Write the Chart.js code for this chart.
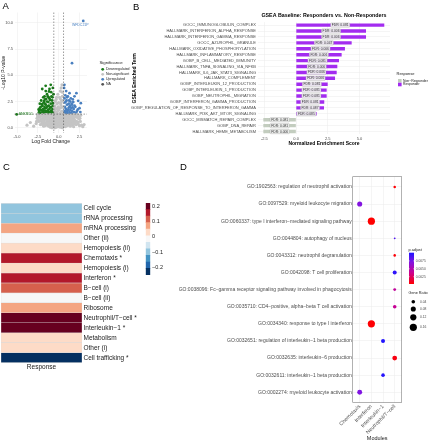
<!DOCTYPE html>
<html><head><meta charset="utf-8">
<script src="https://cdn.jsdelivr.net/npm/chart.js@4"></script>
<style>
html,body{margin:0;padding:0;background:#fff;}
#wrap{position:relative;width:432px;height:440px;overflow:hidden;font-family:"Liberation Sans",Arial,sans-serif;background:#fff;}
canvas{position:absolute;left:0;top:0;}
.lbl{position:absolute;font-size:9.5px;line-height:1;color:#000;}
</style></head><body>
<div id="wrap">
<canvas id="cA" width="432" height="440"></canvas>
<canvas id="cB" width="432" height="440"></canvas>
<canvas id="cC" width="432" height="440"></canvas>
<canvas id="cCbar" width="432" height="440"></canvas>
<canvas id="cD" width="432" height="440"></canvas>
<div class="lbl" style="left:2.5px;top:0.6px">A</div>
<div class="lbl" style="left:133px;top:1.6px">B</div>
<div class="lbl" style="left:3px;top:162.2px">C</div>
<div class="lbl" style="left:180px;top:162.2px">D</div>
</div>
<script>
// ---------------- DATA ----------------
// Panel A: volcano plot [logFC, -log10 p]
const volcanoDown = [[-5.04,1.27],[-2.45,1.35],[-2.3,1.5],[-2.2,1.4],[-2.1,1.7],[-2.25,1.9],[-2.0,1.35],[-1.95,2.1],[-1.9,1.55],[-1.85,1.8],[-1.8,2.4],[-1.75,1.4],[-1.7,2.0],[-1.65,2.7],[-1.6,1.6],[-1.55,2.2],[-1.5,1.45],[-1.45,1.9],[-1.4,2.5],[-1.35,1.35],[-1.3,3.0],[-1.25,1.7],[-1.2,2.1],[-1.15,1.5],[-1.1,2.8],[-1.05,1.4],[-1.0,1.95],[-0.95,2.3],[-0.9,1.6],[-0.85,1.35],[-0.8,2.6],[-0.75,1.8],[-0.7,1.45],[-0.68,2.1],[-0.65,1.6],[-0.62,3.2],[-0.9,3.4],[-1.16,3.46],[-1.56,4.0],[-0.95,4.1],[-1.97,3.7],[-1.4,3.2],[-1.7,3.0],[-2.1,2.6],[-2.26,2.3],[-1.85,2.9],[-1.25,2.45],[-0.75,2.9],[-1.05,2.65],[-1.5,2.75],[-1.95,1.5],[-2.15,2.0],[-0.8,1.5],[-1.3,1.6],[-1.6,1.85],[-1.0,1.5],[-0.7,2.35],[-1.8,1.65],[-2.35,1.6],[-1.1,1.8],[-0.9,2.0],[-1.45,1.55],[-1.2,2.9],[-0.65,1.35],[-1.65,2.3],[-2.0,2.25],[-1.35,2.05],[-0.85,3.0],[-1.75,2.55],[-2.4,1.75],[-1.55,3.5],[-1.1,3.7],[-0.7,3.8]];
const volcanoUp = [[2.95,10.2],[1.6,6.16],[0.69,4.1],[1.3,3.3],[2.13,3.3],[2.34,2.57],[2.66,2.35],[2.5,1.87],[2.6,1.5],[2.2,1.6],[0.65,1.35],[0.7,1.6],[0.75,2.0],[0.8,1.4],[0.85,2.5],[0.9,1.8],[0.95,1.45],[1.0,2.2],[1.05,1.6],[1.1,3.0],[1.15,1.35],[1.2,1.9],[1.25,2.6],[1.3,1.5],[1.35,2.1],[1.4,1.7],[1.45,2.8],[1.5,1.4],[1.55,2.3],[1.6,1.6],[1.65,1.95],[1.7,1.35],[1.75,2.45],[1.8,1.8],[1.85,1.5],[1.9,2.1],[0.7,2.8],[0.8,3.1],[0.9,3.5],[0.65,3.8],[1.0,2.9],[1.2,2.3],[1.4,2.5],[0.75,2.4],[1.1,1.7],[1.5,1.9],[0.95,2.6],[1.7,2.7],[2.0,2.0],[2.1,1.45],[0.85,1.55],[1.3,2.0],[1.6,2.2],[1.0,1.4],[0.7,1.95],[2.3,1.75],[1.9,3.0]];
const volcanoNS = [[0.4,4.1],[0.3,3.8],[0.2,3.5],[-0.1,3.2],[0.45,3.0],[0.1,2.9],[-0.3,2.7],[0.35,2.6],[0.0,2.4],[-0.2,2.3],[0.25,2.2],[-0.45,2.1],[0.5,2.0],[0.15,1.9],[-0.35,1.85],[0.05,1.7],[-0.5,1.65],[0.4,1.6],[-0.15,1.55],[0.3,1.5],[-0.4,1.45],[0.2,1.4],[-0.25,1.35],[0.55,1.3],[0.0,1.25],[-0.05,2.0],[0.3,2.4],[-0.25,2.9],[0.45,3.4],[0.2,2.75],[-0.4,2.5],[0.1,1.3],[-0.5,1.9],[0.5,2.6],[0.35,1.95],[-0.1,1.75],
[-2.6,0.9],[-2.5,1.1],[-2.4,0.6],[-2.3,1.0],[-2.2,0.3],[-2.1,0.8],[-2.05,1.2],[-2.0,0.45],[-1.9,0.95],[-1.85,0.6],[-1.8,0.4],[-1.75,1.15],[-1.7,0.75],[-1.6,0.2],[-1.55,1.0],[-1.5,0.5],[-1.45,1.25],[-1.4,0.8],[-1.35,0.3],[-1.3,1.05],[-1.25,0.6],[-1.2,0.15],[-1.15,0.9],[-1.1,1.2],[-1.05,0.4],[-1.0,0.7],[-0.95,1.0],[-0.9,0.25],[-0.85,0.55],[-0.8,1.15],[-0.75,0.85],[-0.7,0.1],[-0.65,0.45],[-0.6,1.0],[-0.55,0.7],[-0.5,0.2],[-0.45,1.2],[-0.4,0.5],[-0.35,0.85],[-0.3,0.05],[-0.25,1.05],[-0.2,0.35],[-0.15,0.65],[-0.1,0.95],[-0.05,0.15],[0.0,0.55],[0.05,1.1],[0.1,0.3],[0.15,0.8],[0.2,0.05],[0.25,1.0],[0.3,0.45],[0.35,0.7],[0.4,1.2],[0.45,0.2],[0.5,0.9],[0.55,0.55],[0.6,1.15],[0.65,0.3],[0.7,0.75],[0.75,1.0],[0.8,0.1],[0.85,0.6],[0.9,1.2],[0.95,0.4],[1.0,0.85],[1.05,0.2],[1.1,1.05],[1.15,0.55],[1.2,0.8],[1.25,0.3],[1.3,1.15],[1.35,0.65],[1.4,0.15],[1.45,0.95],[1.5,0.45],[1.6,1.1],[1.65,0.7],[1.7,0.25],[1.8,0.9],[1.85,0.5],[1.9,1.2],[2.0,0.65],[2.1,0.3],[2.2,1.0],[2.3,0.55],[2.4,0.85],[2.5,0.2],[2.6,0.6],[-2.7,0.4],[-0.3,0.6],[0.0,0.9],[0.3,0.15],[-0.6,0.35],[0.6,0.6],[-1.0,0.05],[1.0,0.5],[-0.15,0.25],[0.15,0.45],[-3.8,0.25],[-3.0,0.15],[2.75,0.25],[3.05,0.3],[-2.0,0.55],[-3.4,0.5],[2.9,0.1],[-0.45,0.0],[0.45,0.0],[-0.8,0.0],[0.8,0.35],[-1.8,0.15],[1.8,0.1],
[-2.55,1.25],[-2.45,0.75],[-2.35,1.2],[-2.25,0.65],[-2.15,1.1],[-2.05,0.7],[-1.95,1.25],[-1.95,0.3],[-1.9,0.75],[-1.8,1.05],[-1.75,0.55],[-1.65,0.95],[-1.65,0.45],[-1.6,1.25],[-1.5,0.85],[-1.45,0.35],[-1.4,1.1],[-1.35,0.65],[-1.3,0.45],[-1.25,1.2],[-1.2,0.95],[-1.15,0.35],[-1.1,0.7],[-1.05,0.95],[-1.0,1.25],[-0.95,0.5],[-0.9,0.8],[-0.85,1.0],[-0.8,0.3],[-0.75,0.6],[-0.7,1.25],[-0.65,0.8],[-0.6,0.15],[-0.55,1.1],[-0.5,0.55],[-0.45,0.8],[-0.4,0.25],[-0.35,1.1],[-0.3,0.4],[-0.25,0.8],[-0.2,1.2],[-0.15,0.45],[-0.1,0.1],[-0.05,0.75],[0.0,1.1],[0.05,0.4],[0.1,0.65],[0.15,1.0],[0.2,0.3],[0.25,0.6],[0.3,1.25],[0.35,0.35],[0.4,0.9],[0.45,0.55],[0.5,1.2],[0.55,0.25],[0.6,0.85],[0.65,1.0],[0.7,0.45],[0.75,0.2],[0.8,0.8],[0.85,1.1],[0.9,0.35],[0.95,0.7],[1.0,1.15],[1.05,0.6],[1.1,0.35],[1.15,0.85],[1.2,1.2],[1.25,0.5],[1.3,0.75],[1.35,1.0],[1.4,0.4],[1.45,0.65],[1.5,1.2],[1.55,0.8],[1.6,0.35],[1.7,1.0],[1.75,0.55],[1.8,1.25],[1.9,0.75],[1.95,0.4],[2.05,1.05],[2.15,0.6],[2.25,1.25],[2.35,0.35],[2.45,1.1],[2.55,0.9],[2.65,1.2],[-2.65,0.6]];
const volcanoLabelGenes = ['WFDC21P','ANKRD1'];
const volcanoLabelPoints = [[2.95,10.2],[-5.04,1.27]];
const fcThresholds = [-0.585, 0.585];
const pThresholds = [1.3];
const significanceClasses = ['Downregulated','Non-significant','Upregulated','NA'];

// Panel B: GSEA
const gseaTerms = ['GOCC_IMMUNOGLOBULIN_COMPLEX','HALLMARK_INTERFERON_ALPHA_RESPONSE','HALLMARK_INTERFERON_GAMMA_RESPONSE','GOCC_AZUROPHIL_GRANULE','HALLMARK_OXIDATIVE_PHOSPHORYLATION','HALLMARK_INFLAMMATORY_RESPONSE','GOBP_B_CELL_MEDIATED_IMMUNITY','HALLMARK_TNFA_SIGNALING_VIA_NFKB','HALLMARK_IL6_JAK_STAT3_SIGNALING','HALLMARK_COMPLEMENT','GOBP_INTERLEUKIN_12_PRODUCTION','GOBP_INTERLEUKIN_1_PRODUCTION','GOBP_NEUTROPHIL_MIGRATION','GOBP_INTERFERON_GAMMA_PRODUCTION','GOBP_REGULATION_OF_RESPONSE_TO_INTERFERON_GAMMA','HALLMARK_PI3K_AKT_MTOR_SIGNALING','GOCC_MISMATCH_REPAIR_COMPLEX','GOBP_DNA_REPAIR','HALLMARK_HEME_METABOLISM'];
const gseaNES = [6.95,5.51,5.51,4.38,3.85,3.59,3.38,3.25,3.20,3.07,2.49,2.41,2.41,2.22,2.20,1.62,-2.58,-2.58,-2.58];
const gseaFDR = ['0.081','0.006','0.006','0.047','0.006','0.006','0.081','0.006','0.006','0.006','0.081','0.081','0.081','0.081','0.087','0.085','0.081','0.081','0.006'];
const gseaGroups = ['Non−Responder','Responder'];

// Panel C: heatmap
const heatRows = ['Cell cycle','rRNA processing','mRNA processing','Other (ii)','Hemopoiesis (ii)','Chemotaxis *','Hemopoiesis (i)','Interferon *','B−cell (i)','B−cell (ii)','Ribosome','Neutrophil/T−cell *','Interleukin−1 *','Metabolism','Other (i)','Cell trafficking *'];
const heatValues = [-0.09,-0.09,0.08,0.0,0.03,0.16,0.03,0.16,0.12,0.0,0.08,0.21,0.21,0.03,0.03,-0.23];
const heatBreaks = [-0.25,-0.207,-0.165,-0.122,-0.079,-0.036,0.006,0.049,0.092,0.135,0.177,0.22];
const rdbuColors = ['#053061','#2166ac','#4393c3','#92c5de','#d1e5f0','#f7f7f7','#fddbc7','#f4a582','#d6604d','#b2182b','#67001f'];
const heatColumn = ['Response'];

// Panel D: GO dot plot
const goModules = ['Chemotaxis','Interferon','Interleukin−1','Neutrophil/T−cell'];
const goTerms = ['GO:1902563: regulation of neutrophil activation','GO:0097529: myeloid leukocyte migration','GO:0060337: type I interferon−mediated signaling pathway','GO:0044804: autophagy of nucleus','GO:0043312: neutrophil degranulation','GO:0042098: T cell proliferation','GO:0038096: Fc−gamma receptor signaling pathway involved in phagocytosis','GO:0035710: CD4−positive, alpha−beta T cell activation','GO:0034340: response to type I interferon','GO:0032651: regulation of interleukin−1 beta production','GO:0032635: interleukin−6 production','GO:0032611: interleukin−1 beta production','GO:0002274: myeloid leukocyte activation'];
const goTermModule = ['Neutrophil/T−cell','Chemotaxis','Interferon','Neutrophil/T−cell','Neutrophil/T−cell','Neutrophil/T−cell','Neutrophil/T−cell','Neutrophil/T−cell','Interferon','Interleukin−1','Neutrophil/T−cell','Interleukin−1','Chemotaxis'];
const goGeneRatio = [0.02,0.08,0.16,0.01,0.02,0.05,0.025,0.04,0.16,0.05,0.07,0.04,0.075];
const goPAdjust = [0.0003,0.0071,0.0002,0.0086,0.0004,0.0096,0.0042,0.0040,0.0003,0.0100,0.0006,0.0099,0.0072];
const pAdjustRange = [0.0002,0.0101];
const pAdjustTicks = [0.0075,0.0050,0.0025];
const geneRatioTicks = [0.04,0.08,0.12,0.16];

// ---------------- HELPERS ----------------
const FONT = '"Liberation Sans", Arial, sans-serif';
Chart.defaults.font.family = FONT;
Chart.defaults.animation = false;
Chart.defaults.events = [];
const noLegend = {legend:{display:false}, tooltip:{enabled:false}};
const fixW = w => s => { s.width = w; };
const fixH = h => s => { s.height = h; };
function font(sz, bold){ return (bold?'bold ':'') + sz + 'px ' + FONT; }
function heatColor(v){
  for (let i = 0; i < rdbuColors.length; i++) if (v < heatBreaks[i+1]) return rdbuColors[i];
  return rdbuColors[rdbuColors.length-1];
}
const pStops = [[0,[255,0,0]],[0.35,[205,0,140]],[0.7,[130,20,225]],[1,[30,20,255]]];
function pColor(p){
  let t = (p - pAdjustRange[0])/(pAdjustRange[1]-pAdjustRange[0]);
  t = Math.max(0, Math.min(1, t));
  for (let i = 0; i < pStops.length-1; i++){
    const [t0,c0] = pStops[i], [t1,c1] = pStops[i+1];
    if (t <= t1){ const f = (t-t0)/(t1-t0); return 'rgb('+c0.map((c,k)=>Math.round(c+(c1[k]-c)*f)).join(',')+')'; }
  }
  return 'rgb(30,20,255)';
}
const ratioRadius = r => 9*Math.sqrt(r);
const toXY = a => a.map(p => ({x:p[0], y:p[1]}));

// ---------------- PANEL A ----------------
const sigColors = ['#1a7a1a','#c4c4c4','#4a80c0','#555555'];
const volcanoDecor = {id:'volcanoDecor',
  afterDatasetsDraw(chart){
    const {ctx, chartArea:a, scales:{x, y}} = chart;
    ctx.save();
    ctx.setLineDash([1.5,1.5]); ctx.strokeStyle='#3a3a3a'; ctx.lineWidth=0.5;
    fcThresholds.forEach(v => { const px = x.getPixelForValue(v); ctx.beginPath(); ctx.moveTo(px,a.top); ctx.lineTo(px,a.bottom); ctx.stroke(); });
    pThresholds.forEach(v => { const py = y.getPixelForValue(v); ctx.beginPath(); ctx.moveTo(a.left,py); ctx.lineTo(a.right,py); ctx.stroke(); });
    ctx.setLineDash([]);
    ctx.font = font(3.5); ctx.textBaseline='middle';
    volcanoLabelGenes.forEach((g,i) => {
      const px = x.getPixelForValue(volcanoLabelPoints[i][0]), py = y.getPixelForValue(volcanoLabelPoints[i][1]);
      if (volcanoLabelPoints[i][0] > 0){ ctx.fillStyle = sigColors[2]; ctx.textAlign='center'; ctx.fillText(g, px-3, py+4); }
      else { ctx.fillStyle = sigColors[0]; ctx.textAlign='left'; ctx.fillText(g, px+2, py); }
    });
    ctx.restore();
  },
  afterDraw(chart){
    const ctx = chart.ctx; ctx.save();
    ctx.textBaseline='middle'; ctx.textAlign='left';
    ctx.fillStyle='#1a1a1a'; ctx.font=font(4.3); ctx.fillText('Significance', 99.5, 63);
    const ys=[69.3,74.3,79.3,84.3];
    significanceClasses.forEach((c,i)=>{
      ctx.fillStyle = sigColors[i]; ctx.beginPath(); ctx.arc(102.7, ys[i], 1.4, 0, Math.PI*2); ctx.fill();
      ctx.fillStyle='#1a1a1a'; ctx.font=font(3.5); ctx.fillText(c, 106, ys[i]);
    });
    ctx.restore();
  }};
new Chart(document.getElementById('cA'), {
  type:'scatter',
  data:{datasets:[
    {label:'Non-significant', data:toXY(volcanoNS), backgroundColor:sigColors[1], pointRadius:1.6, borderWidth:0},
    {label:'Downregulated', data:toXY(volcanoDown), backgroundColor:sigColors[0], pointRadius:1.4, borderWidth:0},
    {label:'Upregulated', data:toXY(volcanoUp), backgroundColor:sigColors[2], pointRadius:1.4, borderWidth:0}
  ]},
  options:{responsive:false, animation:false,
    layout:{padding:{left:0, top:12.5, right:345, bottom:295.5}},
    plugins:noLegend,
    scales:{
      x:{type:'linear', min:-5.3, max:3.4, afterFit:fixH(11.5),
        grid:{color:'#ebebeb', lineWidth:0.5, drawTicks:false}, border:{display:false},
        ticks:{stepSize:2.5, includeBounds:false, autoSkip:false, maxRotation:0, font:{size:4}, color:'#4d4d4d', padding:1.5, callback:v=>v.toFixed(1)},
        title:{display:true, text:'Log Fold Change', font:{size:5}, color:'#1a1a1a', padding:0}},
      y:{type:'linear', min:-0.5, max:11, afterFit:fixW(14.5),
        grid:{color:'#ebebeb', lineWidth:0.5, drawTicks:false}, border:{display:false},
        ticks:{stepSize:2.5, includeBounds:false, autoSkip:false, font:{size:4}, color:'#4d4d4d', padding:1.5, callback:v=>v.toFixed(1)},
        title:{display:true, text:'-Log10 P-value', font:{size:5}, color:'#1a1a1a', padding:{top:0.5}}}
    }},
  plugins:[volcanoDecor]
});

// ---------------- PANEL B ----------------
const gseaColors = ['#c3cdbf','#a32cf0'];
const gseaDecor = {id:'gseaDecor',
  afterDatasetsDraw(chart){
    const {ctx, scales:{x, y}} = chart; ctx.save();
    ctx.font = font(3.3); ctx.textAlign='center'; ctx.textBaseline='middle';
    gseaNES.forEach((v,i)=>{
      const px = x.getPixelForValue(v/2), py = y.getPixelForValue(i);
      const t = 'FDR: '+gseaFDR[i]; const w = ctx.measureText(t).width + 2.4, h = 4.4;
      ctx.beginPath(); ctx.roundRect(px-w/2, py-h/2, w, h, 0.8);
      ctx.fillStyle='rgba(238,238,238,0.95)'; ctx.fill();
      ctx.strokeStyle='#9a9a9a'; ctx.lineWidth=0.3; ctx.stroke();
      ctx.fillStyle='#333'; ctx.fillText(t, px, py+0.1);
    });
    ctx.restore();
  },
  afterDraw(chart){
    const ctx = chart.ctx; ctx.save();
    ctx.textBaseline='middle'; ctx.textAlign='left';
    ctx.fillStyle='#1a1a1a'; ctx.font=font(4); ctx.fillText('Response', 396.5, 73.5);
    const ys=[79,82.7];
    gseaGroups.forEach((g,i)=>{
      ctx.fillStyle=gseaColors[i]; ctx.fillRect(398, ys[i], 3.6, 3.6);
      ctx.fillStyle='#1a1a1a'; ctx.font=font(3.4); ctx.fillText(g, 403, ys[i]+1.8);
    });
    ctx.restore();
  }};
new Chart(document.getElementById('cB'), {
  type:'bar',
  data:{labels:gseaTerms, datasets:[{data:gseaNES, backgroundColor:gseaNES.map(v=>v>0?gseaColors[1]:gseaColors[0]), barPercentage:0.58, categoryPercentage:1, borderWidth:0}]},
  options:{responsive:false, animation:false, indexAxis:'y',
    layout:{padding:{left:131, top:0, right:42, bottom:293}},
    plugins:{legend:{display:false}, tooltip:{enabled:false},
      title:{display:true, fullSize:false, text:'GSEA Baseline: Responders vs. Non-Responders', font:{size:5.3, weight:'bold'}, color:'#000', padding:{top:12.8, bottom:3.0}}},
    scales:{
      x:{type:'linear', min:-3, max:7.4, afterFit:fixH(12.5),
        grid:{color:'#ebebeb', lineWidth:0.5, drawTicks:false}, border:{display:false},
        ticks:{stepSize:2.5, includeBounds:false, autoSkip:false, maxRotation:0, font:{size:4}, color:'#4d4d4d', padding:2.3, callback:v=>v.toFixed(1)},
        title:{display:true, text:'Normalized Enrichment Score', font:{size:5, weight:'bold'}, color:'#000', padding:0}},
      y:{afterFit:fixW(127),
        grid:{color:'#ebebeb', lineWidth:0.5, drawTicks:false, offset:false}, border:{display:false},
        ticks:{autoSkip:false, font:{size:4}, color:'#4d4d4d', padding:2},
        title:{display:true, text:'GSEA Enriched Term', font:{size:5, weight:'bold'}, color:'#000', padding:{top:1}}}
    }},
  plugins:[gseaDecor]
});

// ---------------- PANEL C ----------------
new Chart(document.getElementById('cC'), {
  type:'bar',
  data:{labels:heatRows, datasets:[{label:heatColumn[0], data:heatRows.map(()=>[0,1]), backgroundColor:heatValues.map(heatColor), borderColor:'#d9d9d9', borderWidth:0.5, borderSkipped:false, barPercentage:1, categoryPercentage:1}]},
  options:{responsive:false, animation:false, indexAxis:'y',
    layout:{padding:{left:1, top:203.3, right:288, bottom:68.8}},
    plugins:noLegend,
    scales:{
      x:{type:'linear', min:0, max:1, afterFit:fixH(8.5), grid:{display:false, drawTicks:false}, border:{display:false}, ticks:{display:false},
        title:{display:true, text:heatColumn[0], font:{size:6.5}, color:'#1a1a1a', padding:0}},
      y:{position:'right', afterFit:fixW(62), grid:{display:false, drawTicks:false}, border:{display:false},
        ticks:{autoSkip:false, font:{size:6.5}, color:'#1a1a1a', padding:1.5}}
    }}
});
new Chart(document.getElementById('cCbar'), {
  type:'bar',
  data:{labels:[''], datasets:rdbuColors.map((c,i)=>({data:[[heatBreaks[i], heatBreaks[i+1]]], backgroundColor:c, borderWidth:0, grouped:false, barPercentage:1, categoryPercentage:1}))},
  options:{responsive:false, animation:false,
    layout:{padding:{left:145.7, top:203, right:261.7, bottom:165}},
    plugins:noLegend,
    scales:{
      x:{display:false},
      y:{position:'right', min:heatBreaks[0], max:heatBreaks[heatBreaks.length-1], afterFit:fixW(20), grid:{display:false, drawTicks:false}, border:{display:false},
        ticks:{stepSize:0.1, includeBounds:false, autoSkip:false, font:{size:5.5}, color:'#1a1a1a', padding:1.8,
          callback:v=>Math.abs(v)<1e-9?'0':(v<0?'−':'')+Math.abs(v).toFixed(1)}}
    }}
});

// ---------------- PANEL D ----------------
const goDecor = {id:'goDecor',
  beforeDatasetsDraw(chart){
    const {ctx, chartArea:a} = chart; ctx.save();
    ctx.strokeStyle='#7f7f7f'; ctx.lineWidth=0.6; ctx.strokeRect(a.left, a.top, a.right-a.left, a.bottom-a.top);
    ctx.restore();
  },
  afterDraw(chart){
    const ctx = chart.ctx; ctx.save();
    ctx.textBaseline='middle'; ctx.textAlign='left';
    ctx.fillStyle='#1a1a1a'; ctx.font=font(3.8); ctx.fillText('p.adjust', 408.5, 249.8);
    const bx=409, by0=252.7, by1=284, bw=5;
    const g = ctx.createLinearGradient(0, by1, 0, by0);
    pStops.forEach(([t,c])=>g.addColorStop(t, 'rgb('+c.join(',')+')'));
    ctx.fillStyle=g; ctx.fillRect(bx, by0, bw, by1-by0);
    pAdjustTicks.forEach(p=>{
      const y = by1 - (p-pAdjustRange[0])/(pAdjustRange[1]-pAdjustRange[0])*(by1-by0);
      ctx.strokeStyle='#fff'; ctx.lineWidth=0.4;
      ctx.beginPath(); ctx.moveTo(bx,y); ctx.lineTo(bx+1,y); ctx.moveTo(bx+bw-1,y); ctx.lineTo(bx+bw,y); ctx.stroke();
      ctx.fillStyle='#4d4d4d'; ctx.font=font(3.3); ctx.fillText(p.toFixed(4), 415.7, y);
    });
    ctx.fillStyle='#1a1a1a'; ctx.font=font(3.8); ctx.fillText('Gene Ratio', 408.5, 293);
    const ys=[301.7,309,317.3,327.3];
    geneRatioTicks.forEach((r,i)=>{
      ctx.fillStyle='#000'; ctx.beginPath(); ctx.arc(413.3, ys[i], ratioRadius(r), 0, Math.PI*2); ctx.fill();
      ctx.fillStyle='#4d4d4d'; ctx.font=font(3.3); ctx.fillText(r.toFixed(2), 420, ys[i]);
    });
    ctx.restore();
  }};
new Chart(document.getElementById('cD'), {
  type:'scatter',
  data:{datasets:[{data:goTerms.map((t,i)=>({x:goModules.indexOf(goTermModule[i])+1, y:i+1})),
    pointRadius:c=>ratioRadius(goGeneRatio[c.dataIndex]), backgroundColor:c=>pColor(goPAdjust[c.dataIndex]), borderWidth:0}]},
  options:{responsive:false, animation:false,
    layout:{padding:{left:0, top:176.7, right:30.3, bottom:0}},
    plugins:noLegend,
    scales:{
      x:{type:'linear', min:0.4, max:4.6, afterFit:fixH(37.5),
        grid:{color:'#ebebeb', lineWidth:0.5, drawTicks:false}, border:{display:false},
        ticks:{stepSize:1, includeBounds:false, autoSkip:false, minRotation:45, maxRotation:45, font:{size:5.2}, color:'#4d4d4d', padding:1, callback:v=>goModules[v-1]},
        title:{display:true, text:'Modules', font:{size:5.5}, color:'#1a1a1a', padding:{top:0, bottom:-1.3}}},
      y:{type:'linear', reverse:true, min:0.4, max:13.6, afterFit:fixW(352.7),
        grid:{color:'#ebebeb', lineWidth:0.5, drawTicks:false}, border:{display:false},
        ticks:{stepSize:1, includeBounds:false, autoSkip:false, font:{size:5}, color:'#4d4d4d', padding:1, callback:v=>goTerms[v-1]}}
    }},
  plugins:[goDecor]
});
</script>
</body></html>
